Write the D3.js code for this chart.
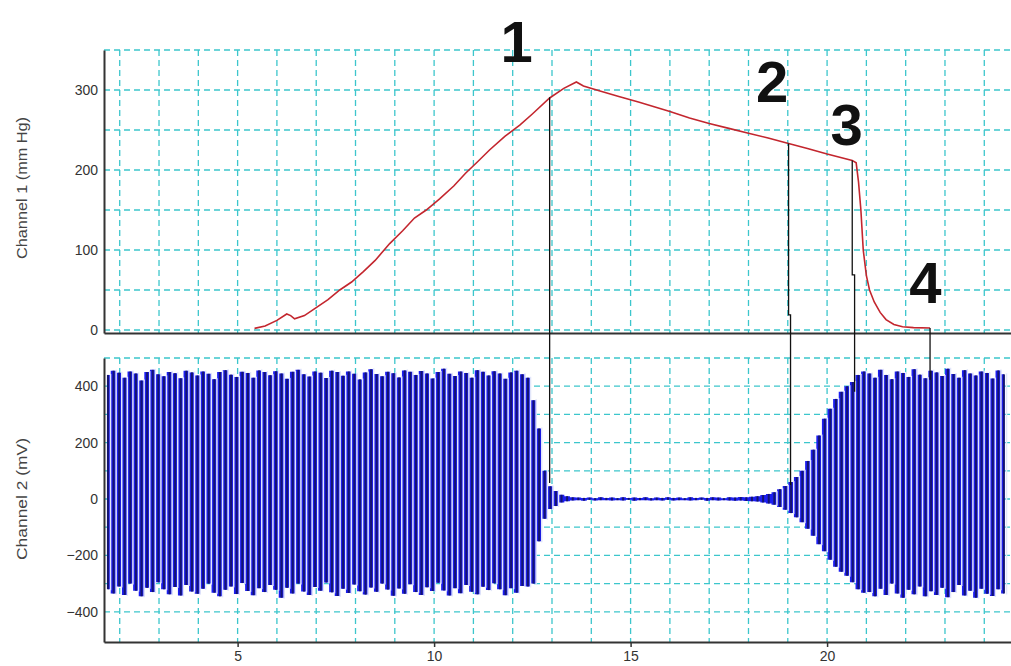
<!DOCTYPE html>
<html>
<head>
<meta charset="utf-8">
<script src="https://cdn.jsdelivr.net/npm/d3@7"></script>
<style>
  body { margin: 0; background: #fff; }
  svg { display: block; font-family: "Liberation Sans", Arial, sans-serif; }
</style>
</head>
<body>
<div id="container"></div>
<script>
// time axis (s)
const gridTimes = [2, 3, 4, 5, 6, 7, 8, 9, 10, 11, 12, 13, 14, 15, 16, 17, 18, 19, 20, 21, 22, 23, 24];
const timeTicks = [5, 10, 15, 20];

// channel 1 - cuff pressure (mm Hg)
const pressureTicks = [0, 100, 200, 300];
const pressureGrid = [0, 50, 100, 150, 200, 250, 300, 350];
const cuffPressure = [
  [5.43, 2], [5.7, 5], [6.0, 12], [6.25, 20], [6.35, 18], [6.45, 14], [6.7, 18], [7.0, 28],
  [7.3, 38], [7.6, 50], [7.9, 60], [8.2, 73], [8.5, 87], [8.87, 108], [9.2, 124], [9.5, 140],
  [9.8, 150], [10.14, 164], [10.5, 180], [10.8, 196], [11.1, 210], [11.41, 225], [11.8, 242],
  [12.18, 256], [12.5, 270], [12.94, 290], [13.3, 302], [13.62, 310], [13.8, 305], [14.2, 299],
  [14.7, 292], [15.2, 285], [15.6, 279], [16.0, 273], [16.5, 265], [17.0, 258], [17.5, 252],
  [18.0, 246], [18.5, 240], [19.02, 233], [19.5, 227], [20.0, 220], [20.64, 212], [20.74, 209],
  [20.8, 185], [20.86, 150], [20.92, 100], [21.0, 68], [21.08, 50], [21.2, 35], [21.35, 22],
  [21.5, 13], [21.7, 7], [21.92, 4], [22.2, 3], [22.62, 2.5]
];

// channel 2 - signal (mV), one [top, bottom] pair per stroke
const signalTicks = [-400, -200, 0, 200, 400];
const signalGrid = [-400, -300, -200, -100, 0, 100, 200, 300, 400, 500];
const sampleStart = 1.7;
const sampleStep = 0.1425;
const burstBefore = [
  [440, -320], [455, -335], [448, -310], [430, -340], [452, -300], [445, -325], [420, -345], [450, -315], [458, -330], [442, -295],
  [435, -320], [450, -338], [446, -312], [428, -342], [455, -305], [449, -328], [438, -336], [452, -318], [444, -300], [425, -332],
  [450, -345], [457, -322], [441, -310], [433, -337], [451, -298], [447, -326], [430, -341], [456, -316], [450, -330], [439, -305],
  [453, -322], [445, -350], [426, -315], [451, -335], [458, -300], [442, -328], [434, -340], [452, -312], [448, -325], [429, -296],
  [455, -331], [450, -344], [437, -318], [452, -333], [444, -303], [424, -327], [449, -339], [460, -314], [443, -329], [435, -300],
  [451, -321], [446, -343], [431, -317], [456, -336], [451, -302], [440, -330], [454, -340], [445, -313], [427, -326], [450, -297],
  [462, -324], [444, -342], [436, -316], [452, -334], [447, -305], [430, -329], [457, -338], [451, -311], [438, -323], [453, -299],
  [445, -320], [426, -341], [449, -316], [455, -332], [442, -308],
  [430, -310], [350, -300], [250, -150], [100, -70], [45, -35], [28, -25], [15, -12], [10, -8]
];
const quietPhase = [
  [6, -5], [5, -4], [4, -6], [5, -3], [3, -5], [6, -4], [4, -4], [5, -5], [3, -4], [6, -5],
  [4, -3], [5, -6], [4, -4], [6, -4], [3, -5], [5, -4], [4, -5], [6, -3], [4, -5], [5, -4],
  [3, -4], [6, -5], [4, -4], [5, -3], [4, -6], [6, -4], [5, -5], [3, -4], [6, -5], [5, -6],
  [7, -5], [6, -7]
];
const burstAfter = [
  [8, -8], [10, -9], [14, -12], [18, -16], [24, -20], [35, -28], [46, -38], [60, -50], [78, -65], [100, -82],
  [135, -105], [175, -130], [225, -160], [285, -185], [320, -215], [355, -240], [380, -258], [400, -272], [415, -295], [440, -320],
  [452, -332],
  [445, -330], [430, -345], [458, -318], [440, -340], [425, -300], [452, -335], [447, -350], [433, -322], [460, -338], [441, -310],
  [428, -345], [455, -327], [449, -340], [436, -315], [462, -348], [443, -330], [430, -305], [457, -342], [445, -325], [438, -350],
  [452, -318], [447, -336], [427, -344], [456, -320], [442, -335]
];

// numbered markers: where each leaves channel 1 and where it stops on channel 2
const markers = [
  { top: [[12.94, 291]], bottom: [12.94, 57] },
  { top: [[19.02, 233], [19.02, 19], [19.07, 19]], bottom: [19.07, 50] },
  { top: [[20.64, 212], [20.64, 69], [20.70, 69]], bottom: [20.70, 380] },
  { top: [[22.62, 2.5]], bottom: [22.62, 423] }
];
const markerLabels = ["1", "2", "3", "4"];
const labelTimes = [12.1, 18.6, 20.5, 22.5];
const labelPressures = [335, 285, 231, 34];

const width = 1011;
const height = 666;

const svg = d3.select("#container")
  .append("svg")
  .attr("width", width)
  .attr("height", height);

const x = d3.scaleLinear().domain([1.6, 24.68]).range([104, 1011]);
const yTop = d3.scaleLinear().domain([-3.75, 350]).range([333, 50]);
const yBot = d3.scaleLinear().domain([-507, 500]).range([642, 358]);

const gridColor = "#3cc6cc";

function drawGrid(y, values) {
  const g = svg.append("g")
    .attr("stroke", gridColor)
    .attr("stroke-width", 1.3)
    .attr("stroke-dasharray", "6,4");
  const [yb, yt] = y.range();
  g.selectAll("line.v")
    .data(gridTimes)
    .enter()
    .append("line")
    .attr("x1", d => x(d))
    .attr("x2", d => x(d))
    .attr("y1", yt)
    .attr("y2", yb);
  g.selectAll("line.h")
    .data(values)
    .enter()
    .append("line")
    .attr("x1", x.range()[0])
    .attr("x2", x.range()[1])
    .attr("y1", d => y(d))
    .attr("y2", d => y(d));
}

drawGrid(yTop, pressureGrid);
drawGrid(yBot, signalGrid);

// channel 2 signal
const channel2 = burstBefore.concat(quietPhase, burstAfter)
  .map((d, i) => ({ t: sampleStart + i * sampleStep, hi: d[0], lo: d[1] }));

svg.append("clipPath").attr("id", "clipBot")
  .append("rect")
  .attr("x", 104).attr("y", 350).attr("width", 907).attr("height", 292);

const sig = svg.append("g").attr("clip-path", "url(#clipBot)");

sig.append("path")
  .datum(channel2)
  .attr("fill", "#1c1ef0")
  .attr("d", d3.area()
    .x(d => x(d.t))
    .y0(d => yBot(d.lo))
    .y1(d => yBot(d.hi))
    .curve(d3.curveStep));

// pale gaps between strokes
sig.selectAll("line.light")
  .data(channel2.filter(d => d.hi > 20))
  .enter()
  .append("line")
  .attr("x1", d => x(d.t) + 2.6)
  .attr("x2", d => x(d.t) + 2.6)
  .attr("y1", d => yBot(d.hi) - 1)
  .attr("y2", d => yBot(d.lo) + 1)
  .attr("stroke", "#e2e6fa")
  .attr("stroke-width", 1.5);

sig.selectAll("line.stroke")
  .data(channel2)
  .enter()
  .append("line")
  .attr("x1", d => x(d.t))
  .attr("x2", d => x(d.t))
  .attr("y1", d => yBot(d.hi))
  .attr("y2", d => yBot(d.lo))
  .attr("stroke", "#141470")
  .attr("stroke-width", 2);

// channel 1 pressure
svg.append("path")
  .datum(cuffPressure)
  .attr("fill", "none")
  .attr("stroke", "#c3262e")
  .attr("stroke-width", 1.6)
  .attr("d", d3.line().x(d => x(d[0])).y(d => yTop(d[1])));

// axes
const axisColor = "#333";

function styleAxis(g) {
  g.select(".domain").attr("stroke", axisColor).attr("stroke-width", 2);
  g.selectAll(".tick line").attr("stroke", axisColor).attr("stroke-width", 1.5);
  g.selectAll(".tick text")
    .attr("fill", "#333")
    .style("font-size", "14px")
    .style("font-family", "'Liberation Sans', Arial, sans-serif");
}

svg.append("g")
  .attr("transform", "translate(104,0)")
  .call(d3.axisLeft(yTop).tickValues(pressureTicks).tickSize(0).tickPadding(6))
  .call(styleAxis);

svg.append("g")
  .attr("transform", "translate(0,333)")
  .call(d3.axisBottom(x).tickValues([]).tickSizeOuter(0))
  .call(styleAxis);

svg.append("g")
  .attr("transform", "translate(104,0)")
  .call(d3.axisLeft(yBot).tickValues(signalTicks).tickSize(0).tickPadding(6))
  .call(styleAxis);

svg.append("g")
  .attr("transform", "translate(0,642)")
  .call(d3.axisBottom(x).tickValues(timeTicks).tickSize(5).tickSizeOuter(0).tickPadding(4))
  .call(styleAxis);

svg.append("text")
  .attr("transform", "translate(27,188) rotate(-90)")
  .attr("text-anchor", "middle")
  .attr("fill", "#444")
  .attr("textLength", 142)
  .attr("lengthAdjust", "spacingAndGlyphs")
  .style("font-size", "15px")
  .text("Channel 1 (mm Hg)");

svg.append("text")
  .attr("transform", `translate(27,${yBot(0)}) rotate(-90)`)
  .attr("text-anchor", "middle")
  .attr("fill", "#444")
  .attr("textLength", 122)
  .attr("lengthAdjust", "spacingAndGlyphs")
  .style("font-size", "15px")
  .text("Channel 2 (mV)");

// markers
markers.forEach(m => {
  const pts = m.top.map(p => [x(p[0]), yTop(p[1])]);
  pts.push([x(m.bottom[0]), yBot(m.bottom[1])]);
  svg.append("path")
    .attr("d", d3.line()(pts))
    .attr("fill", "none")
    .attr("stroke", "#111")
    .attr("stroke-width", 1.3);
});

svg.selectAll("text.mark")
  .data(markerLabels)
  .enter()
  .append("text")
  .attr("x", (d, i) => x(labelTimes[i]))
  .attr("y", (d, i) => yTop(labelPressures[i]))
  .attr("text-anchor", "middle")
  .attr("fill", "#111")
  .style("font-size", "58px")
  .style("font-weight", "bold")
  .text(d => d);
</script>
</body>
</html>
